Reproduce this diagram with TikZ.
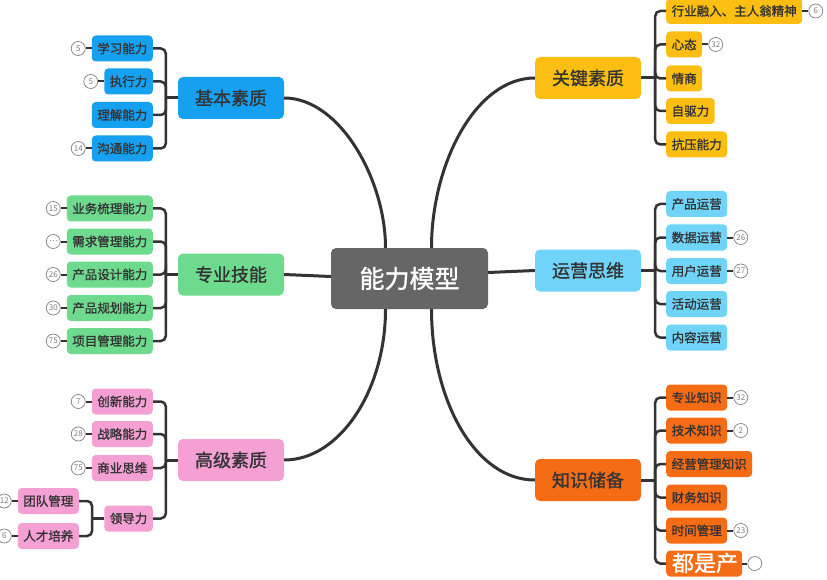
\documentclass[tikz,border=0pt]{standalone}
\usepackage{fontspec}
\setmainfont{Noto Sans CJK SC}[BoldFont=*, BoldFeatures={FakeBold=1.2}]
\usetikzlibrary{positioning}
\definecolor{ink}{RGB}{51, 51, 51}
\definecolor{hubgray}{RGB}{102, 102, 102}
\definecolor{sky}{RGB}{21, 160, 240}
\definecolor{mint}{RGB}{110, 218, 142}
\definecolor{rose}{RGB}{245, 160, 212}
\definecolor{amber}{RGB}{252, 190, 18}
\definecolor{aqua}{RGB}{112, 212, 248}
\definecolor{tangerine}{RGB}{246, 108, 20}

\tikzset{
  topic/.style={rounded corners=5pt, minimum width=106pt, minimum height=42pt,
    inner sep=0pt, text=ink, font=\fontsize{18}{18}\selectfont\bfseries},
  leaf/.style={rounded corners=4pt, minimum height=26pt, inner xsep=5.5pt,
    inner ysep=0pt, text=ink, font=\fontsize{12.5}{12.5}\selectfont\bfseries},
  badge/.style={circle, draw=gray, fill=white, line width=0.7pt, minimum size=14pt,
    inner sep=0pt, text=gray, font=\fontsize{8}{8}\selectfont},
  trunk/.style={ink, line width=3pt},
  branch/.style={ink, line width=2.5pt, rounded corners=5pt},
  stub/.style={ink, line width=2pt}
}

\begin{document}
\begin{tikzpicture}[x=1pt, y=-1pt]
  \useasboundingbox[fill=white] (0, 0) rectangle (827, 580);

  % centre and main topics
  \node[rounded corners=5pt, fill=hubgray, minimum width=157pt, minimum height=61pt,
    text=white, font=\fontsize{25}{25}\selectfont\bfseries] (hub) at (409.5, 278.5) {能力模型};
  \node[topic, fill=sky] (jbsz) at (231, 98) {基本素质};
  \node[topic, fill=mint] (zyjn) at (231, 274.5) {专业技能};
  \node[topic, fill=rose] (gjsz) at (231, 460) {高级素质};
  \node[topic, fill=amber] (gjys) at (588, 78) {关键素质};
  \node[topic, fill=aqua] (yysw) at (588, 270.5) {运营思维};
  \node[topic, fill=tangerine] (zscb) at (588, 480) {知识储备};

  \draw[trunk] (jbsz.east) .. controls (340, 98) and ([xshift=-24pt]hub.north |- 0, 180) .. ([xshift=-24pt]hub.north);
  \draw[trunk] (gjys.west) .. controls (475, 78) and ([xshift=22pt]hub.north |- 0, 165) .. ([xshift=22pt]hub.north);
  \draw[trunk] (gjsz.east) .. controls (340, 460) and ([xshift=-24pt]hub.south |- 0, 390) .. ([xshift=-24pt]hub.south);
  \draw[trunk] (zscb.west) .. controls (475, 480) and ([xshift=22pt]hub.south |- 0, 400) .. ([xshift=22pt]hub.south);
  \draw[trunk] (zyjn.east) -- ([yshift=2pt]hub.west);
  \draw[trunk] (yysw.west) -- ([yshift=6pt]hub.east);

  % 基本素质
  \node[leaf, fill=sky, anchor=east] (xxnl) at (153, 48.5) {学习能力};
  \node[leaf, fill=sky, anchor=east] (zxl) at (153, 81.5) {执行力};
  \node[leaf, fill=sky, anchor=east] (ljnl) at (153, 115) {理解能力};
  \node[leaf, fill=sky, anchor=east] (gtnl) at (153, 148.5) {沟通能力};
  \draw[trunk] (jbsz.west) -- ++(-12, 0) coordinate (j1);
  \foreach \n in {xxnl, zxl, ljnl, gtnl}
    \draw[branch] (j1) |- (\n.east);
  \node[badge, left=6pt of xxnl] (b1) {5};
  \node[badge, left=6pt of zxl] (b2) {5};
  \node[badge, left=6pt of gtnl] (b3) {14};
  \draw[stub] (b1) -- (xxnl);
  \draw[stub] (b2) -- (zxl);
  \draw[stub] (b3) -- (gtnl);

  % 专业技能
  \node[leaf, fill=mint, anchor=east] (ywsl) at (153, 208.5) {业务梳理能力};
  \node[leaf, fill=mint, anchor=east] (xqgl) at (153, 241.5) {需求管理能力};
  \node[leaf, fill=mint, anchor=east] (cpsj) at (153, 274.5) {产品设计能力};
  \node[leaf, fill=mint, anchor=east] (cpgh) at (153, 308) {产品规划能力};
  \node[leaf, fill=mint, anchor=east] (xmgl) at (153, 341) {项目管理能力};
  \draw[trunk] (zyjn.west) -- ++(-12, 0) coordinate (j2);
  \foreach \n in {ywsl, xqgl, cpsj, cpgh, xmgl}
    \draw[branch] (j2) |- (\n.east);
  \node[badge, left=6pt of ywsl] (b4) {15};
  \node[badge, left=6pt of xqgl] (b5) {…};
  \node[badge, left=6pt of cpsj] (b6) {26};
  \node[badge, left=6pt of cpgh] (b7) {30};
  \node[badge, left=6pt of xmgl] (b8) {75};
  \draw[stub] (b4) -- (ywsl);
  \draw[stub] (b5) -- (xqgl);
  \draw[stub] (b6) -- (cpsj);
  \draw[stub] (b7) -- (cpgh);
  \draw[stub] (b8) -- (xmgl);

  % 高级素质
  \node[leaf, fill=rose, anchor=east] (cxnl) at (153, 401.5) {创新能力};
  \node[leaf, fill=rose, anchor=east] (zlnl) at (153, 434) {战略能力};
  \node[leaf, fill=rose, anchor=east] (sysw) at (153, 468) {商业思维};
  \node[leaf, fill=rose, anchor=east] (ldl) at (153, 518.5) {领导力};
  \draw[trunk] (gjsz.west) -- ++(-12, 0) coordinate (j3);
  \foreach \n in {cxnl, zlnl, sysw, ldl}
    \draw[branch] (j3) |- (\n.east);
  \node[badge, left=6pt of cxnl] (b9) {7};
  \node[badge, left=6pt of zlnl] (b10) {28};
  \node[badge, left=6pt of sysw] (b11) {75};
  \draw[stub] (b9) -- (cxnl);
  \draw[stub] (b10) -- (zlnl);
  \draw[stub] (b11) -- (sysw);
  \node[leaf, fill=rose, anchor=east] (tdgl) at (79, 501) {团队管理};
  \node[leaf, fill=rose, anchor=east] (rcpy) at (79, 536) {人才培养};
  \draw[trunk] (ldl.west) -- ++(-12, 0) coordinate (j4);
  \foreach \n in {tdgl, rcpy}
    \draw[branch] (j4) |- (\n.east);
  \node[badge, left=6pt of tdgl] (b12) {12};
  \node[badge, left=6pt of rcpy] (b13) {6};
  \draw[stub] (b12) -- (tdgl);
  \draw[stub] (b13) -- (rcpy);

  % 关键素质
  \node[leaf, fill=amber, anchor=west] (hyrr) at (666, 11) {行业融入、主人翁精神};
  \node[leaf, fill=amber, anchor=west] (xt) at (666, 44.5) {心态};
  \node[leaf, fill=amber, anchor=west] (qs) at (666, 78.5) {情商};
  \node[leaf, fill=amber, anchor=west] (zql) at (666, 111) {自驱力};
  \node[leaf, fill=amber, anchor=west] (kynl) at (666, 144.5) {抗压能力};
  \draw[trunk] (gjys.east) -- ++(14, 0) coordinate (j5);
  \foreach \n in {hyrr, xt, qs, zql, kynl}
    \draw[branch] (j5) |- (\n.west);
  \node[badge, right=6pt of hyrr] (b14) {6};
  \node[badge, right=6pt of xt] (b15) {32};
  \draw[stub] (b14) -- (hyrr);
  \draw[stub] (b15) -- (xt);

  % 运营思维
  \node[leaf, fill=aqua, anchor=west] (cpyy) at (666, 204) {产品运营};
  \node[leaf, fill=aqua, anchor=west] (sjyy) at (666, 237.5) {数据运营};
  \node[leaf, fill=aqua, anchor=west] (yhyy) at (666, 271) {用户运营};
  \node[leaf, fill=aqua, anchor=west] (hdyy) at (666, 304) {活动运营};
  \node[leaf, fill=aqua, anchor=west] (nryy) at (666, 337.5) {内容运营};
  \draw[trunk] (yysw.east) -- ++(14, 0) coordinate (j6);
  \foreach \n in {cpyy, sjyy, yhyy, hdyy, nryy}
    \draw[branch] (j6) |- (\n.west);
  \node[badge, right=6pt of sjyy] (b16) {26};
  \node[badge, right=6pt of yhyy] (b17) {27};
  \draw[stub] (b16) -- (sjyy);
  \draw[stub] (b17) -- (yhyy);

  % 知识储备
  \node[leaf, fill=tangerine, anchor=west] (zyzs) at (666, 397.5) {专业知识};
  \node[leaf, fill=tangerine, anchor=west] (jszs) at (666, 430.5) {技术知识};
  \node[leaf, fill=tangerine, anchor=west] (jygl) at (666, 464) {经营管理知识};
  \node[leaf, fill=tangerine, anchor=west] (cwzs) at (666, 497.5) {财务知识};
  \node[leaf, fill=tangerine, anchor=west] (sjgl) at (666, 530.5) {时间管理};
  \node[leaf, fill=tangerine, anchor=west, minimum width=76pt] (last) at (666, 563.5) {};
  \draw[trunk] (zscb.east) -- ++(14, 0) coordinate (j7);
  \foreach \n in {zyzs, jszs, jygl, cwzs, sjgl, last}
    \draw[branch] (j7) |- (\n.west);
  \node[badge, right=5pt of last] (b21) {};
  \node[badge, right=6pt of zyzs] (b18) {32};
  \node[badge, right=6pt of jszs] (b19) {2};
  \node[badge, right=6pt of sjgl] (b20) {23};
  \draw[stub] (b18) -- (zyzs);
  \draw[stub] (b19) -- (jszs);
  \draw[stub] (b20) -- (sjgl);
  \draw[stub] (b21) -- (last);

  % watermark
  \node[text=white, font=\fontsize{22}{22}\selectfont\bfseries] (wm) at (705, 563) {都是产};
\end{tikzpicture}
\end{document}
